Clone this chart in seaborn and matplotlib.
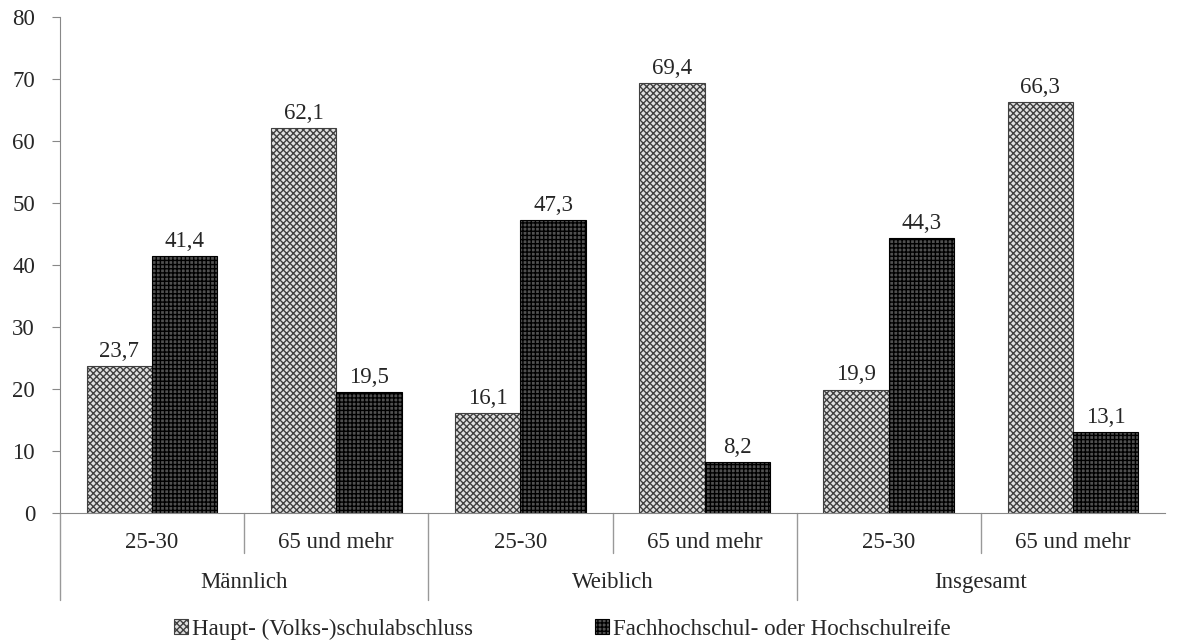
import pandas as pd
import seaborn as sns
import matplotlib.pyplot as plt
from matplotlib.patches import Patch
from matplotlib.transforms import blended_transform_factory

# Werte aus dem Diagramm
gruppen = ['Männlich', 'Weiblich', 'Insgesamt']
alter = ['25-30', '65 und mehr']
serien = ['Haupt- (Volks-)schulabschluss', 'Fachhochschul- oder Hochschulreife']
haupt = [23.7, 62.1, 16.1, 69.4, 19.9, 66.3]
hochschul = [41.4, 19.5, 47.3, 8.2, 44.3, 13.1]

kategorien = [f'{g}|{a}' for g in gruppen for a in alter]
df = pd.DataFrame({
    'kategorie': kategorien * 2,
    'serie': [serien[0]] * 6 + [serien[1]] * 6,
    'wert': haupt + hochschul,
})

sns.set_style('white')
plt.rcParams['font.family'] = ['Liberation Serif', 'DejaVu Serif']
plt.rcParams['hatch.linewidth'] = 1.0
fs = 16.5

fig = plt.figure(figsize=(11.84, 6.41), dpi=100)
ax = fig.add_axes([0.0507, 0.1997, 0.9333, 0.7738])

sns.barplot(data=df, x='kategorie', y='wert', hue='serie', order=kategorien,
            hue_order=serien, width=0.71, ax=ax, legend=False)

stile = [dict(fc='#e0e0e0', ec='#404040', hatch='xxxxx'),
         dict(fc='#505050', ec='black', hatch='++++')]
for cont, st in zip(ax.containers, stile):
    for bar in cont:
        bar.set_facecolor(st['fc'])
        bar.set_edgecolor(st['ec'])
        bar.set_hatch(st['hatch'])
        bar.set_linewidth(0.8)
    ax.bar_label(cont, labels=[f'{v:.1f}'.replace('.', ',') for v in cont.datavalues],
                 padding=3, fontsize=fs)

ax.set_ylim(0, 80)
ax.set_xlim(-0.5, 5.5)
ax.set_yticks(range(0, 81, 10))
ax.tick_params(axis='y', labelsize=fs, left=True, length=6, color='#888888', pad=12)
ax.set_xticks(range(6))
ax.set_xticklabels(alter * 3, fontsize=fs)
ax.tick_params(axis='x', bottom=False, pad=10)
ax.set_xlabel('')
ax.set_ylabel('')
for s in ['top', 'right']:
    ax.spines[s].set_visible(False)
for s in ['left', 'bottom']:
    ax.spines[s].set_color('#888888')

# Trennlinien und Gruppenbeschriftung unter der Achse
tr = blended_transform_factory(ax.transData, ax.transAxes)
for i in range(6):
    x = i - 0.5
    unten = -0.176 if i % 2 == 0 else -0.081
    ax.plot([x, x], [0, unten], transform=tr, color='#999999', lw=1, clip_on=False)
for j, g in enumerate(gruppen):
    ax.text(2 * j + 0.5, -0.14, g, transform=tr, ha='center', va='center', fontsize=fs)

handles = [Patch(facecolor=st['fc'], edgecolor=st['ec'], hatch=st['hatch'], lw=0.8) for st in stile]
fig.legend(handles, serien, loc='lower center', bbox_to_anchor=(0.475, -0.03), ncol=2,
           frameon=False, fontsize=fs, handlelength=0.6, handleheight=0.6,
           handletextpad=0.2, columnspacing=5.3)

fig.savefig('out.png', dpi=100)
